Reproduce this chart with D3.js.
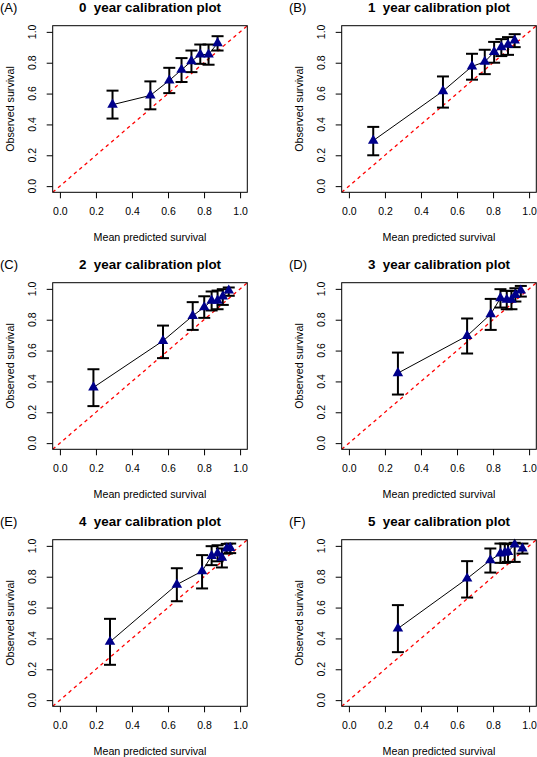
<!DOCTYPE html>
<html>
<head>
<meta charset="utf-8">
<script src="https://cdn.jsdelivr.net/npm/d3@7"></script>
<style>
  html, body { margin: 0; padding: 0; background: #fff; }
  svg { display: block; }
  text { font-family: "Liberation Sans", Arial, Helvetica, sans-serif; fill: #000; }
</style>
</head>
<body>
<svg id="chart" width="537" height="757"></svg>
<script>
// ---- data ----
const panelTags = ["(A)", "(B)", "(C)", "(D)", "(E)", "(F)"];
const panelYears = [0, 1, 2, 3, 4, 5];
const tickValues = [0, 0.2, 0.4, 0.6, 0.8, 1.0];
const xLabel = "Mean predicted survival";
const yLabel = "Observed survival";

const pred0 = [0.292, 0.502, 0.607, 0.675, 0.730, 0.779, 0.825, 0.875];
const obs0  = [0.528, 0.588, 0.685, 0.754, 0.810, 0.853, 0.853, 0.927];
const low0  = [0.438, 0.498, 0.603, 0.675, 0.739, 0.793, 0.787, 0.879];
const up0   = [0.619, 0.679, 0.767, 0.830, 0.879, 0.918, 0.918, 0.972];

const pred1 = [0.135, 0.522, 0.683, 0.754, 0.806, 0.846, 0.883, 0.920];
const obs1  = [0.295, 0.616, 0.776, 0.806, 0.869, 0.901, 0.916, 0.944];
const low1  = [0.200, 0.509, 0.690, 0.726, 0.800, 0.843, 0.851, 0.901];
const up1   = [0.384, 0.711, 0.858, 0.884, 0.935, 0.953, 0.966, 0.985];

const pred2 = [0.186, 0.572, 0.737, 0.801, 0.842, 0.875, 0.904, 0.937];
const obs2  = [0.361, 0.663, 0.825, 0.881, 0.924, 0.924, 0.950, 0.989];
const low2  = [0.240, 0.551, 0.734, 0.812, 0.860, 0.868, 0.896, 0.955];
const up2   = [0.479, 0.762, 0.914, 0.952, 0.983, 0.989, 0.998, 1.009];

const pred3 = [0.272, 0.656, 0.787, 0.841, 0.876, 0.902, 0.924, 0.954];
const obs3  = [0.454, 0.695, 0.836, 0.940, 0.929, 0.929, 0.961, 0.989];
const low3  = [0.315, 0.581, 0.734, 0.879, 0.868, 0.868, 0.918, 0.950];
const up3   = [0.587, 0.808, 0.935, 0.998, 0.987, 0.987, 1.004, 1.019];

const pred4 = [0.278, 0.649, 0.789, 0.842, 0.875, 0.899, 0.926, 0.945];
const obs4  = [0.378, 0.749, 0.836, 0.935, 0.950, 0.924, 0.983, 0.987];
const low4  = [0.229, 0.641, 0.724, 0.875, 0.900, 0.860, 0.950, 0.953];
const up4   = [0.527, 0.855, 0.940, 0.998, 1.004, 0.983, 1.013, 1.015];

const pred5 = [0.272, 0.656, 0.785, 0.841, 0.865, 0.883, 0.920, 0.963];
const obs5  = [0.464, 0.788, 0.907, 0.950, 0.955, 0.961, 1.009, 0.983];
const low5  = [0.311, 0.665, 0.827, 0.890, 0.890, 0.896, 0.896, 0.950];
const up5   = [0.616, 0.901, 0.983, 1.015, 1.015, 1.011, 1.020, 1.015];

const preds = [pred0, pred1, pred2, pred3, pred4, pred5];
const obss  = [obs0, obs1, obs2, obs3, obs4, obs5];
const lows  = [low0, low1, low2, low3, low4, low5];
const ups   = [up0, up1, up2, up3, up4, up5];

// ---- layout ----
const colX = [0, 289];
const rowY = [0, 257, 514];
const box = { left: 52.7, top: 25.7, w: 194.6, h: 166.6 };

const svg = d3.select("#chart");

panelYears.forEach((yr, i) => {
  const ox = colX[i % 2], oy = rowY[Math.floor(i / 2)];
  const data = preds[i].map((p, j) => ({ p, o: obss[i][j], lo: lows[i][j], hi: ups[i][j] }));

  const x = d3.scaleLinear().domain([-0.04, 1.04]).range([ox + box.left, ox + box.left + box.w]);
  const y = d3.scaleLinear().domain([-0.04, 1.04]).range([oy + box.top + box.h, oy + box.top]);

  const g = svg.append("g");
  const clipId = "clip" + i;
  g.append("clipPath").attr("id", clipId).append("rect")
    .attr("x", x(-0.04)).attr("y", y(1.04)).attr("width", box.w).attr("height", box.h);

  // diagonal reference line
  g.append("line")
    .attr("clip-path", `url(#${clipId})`)
    .attr("x1", x(-0.04)).attr("y1", y(-0.04)).attr("x2", x(1.04)).attr("y2", y(1.04))
    .attr("stroke", "#ff0000").attr("stroke-width", 1.3).attr("stroke-dasharray", "3.5,3.5");

  // connecting line
  g.append("path")
    .datum(data)
    .attr("fill", "none").attr("stroke", "#000").attr("stroke-width", 1)
    .attr("d", d3.line().x(d => x(d.p)).y(d => y(d.o)));

  // error bars
  const eb = g.append("g").attr("stroke", "#000").attr("stroke-width", 2).attr("fill", "none");
  data.forEach(d => {
    eb.append("line").attr("x1", x(d.p)).attr("x2", x(d.p)).attr("y1", y(d.lo)).attr("y2", y(d.hi));
    eb.append("line").attr("x1", x(d.p) - 6).attr("x2", x(d.p) + 6).attr("y1", y(d.lo)).attr("y2", y(d.lo));
    eb.append("line").attr("x1", x(d.p) - 6).attr("x2", x(d.p) + 6).attr("y1", y(d.hi)).attr("y2", y(d.hi));
  });

  // triangles
  g.selectAll("path.pt").data(data).join("path")
    .attr("class", "pt")
    .attr("d", d3.symbol(d3.symbolTriangle, 48))
    .attr("transform", d => `translate(${x(d.p)},${y(d.o)})`)
    .attr("fill", "#00008B");

  // box
  g.append("rect")
    .attr("x", x(-0.04)).attr("y", y(1.04)).attr("width", box.w).attr("height", box.h)
    .attr("fill", "none").attr("stroke", "#000").attr("stroke-width", 1);

  // x axis
  const xa = g.append("g")
    .attr("transform", `translate(0,${y(-0.04)})`)
    .call(d3.axisBottom(x).tickValues(tickValues).tickSize(6).tickPadding(9.5).tickFormat(d3.format(".1f")));
  xa.select(".domain").remove();
  xa.selectAll("text").style("font-size", "10.5px").style("font-family", "'Liberation Sans', Arial, sans-serif").attr("fill", "#000");

  // y axis
  const ya = g.append("g")
    .attr("transform", `translate(${x(-0.04)},0)`)
    .call(d3.axisLeft(y).tickValues(tickValues).tickSize(6).tickFormat(""));
  ya.select(".domain").remove();
  tickValues.forEach(v => {
    g.append("text")
      .attr("transform", `translate(${ox + 36},${y(v)}) rotate(-90)`)
      .attr("text-anchor", "middle")
      .style("font-size", "10.5px")
      .text(d3.format(".1f")(v));
  });

  // axis titles
  g.append("text")
    .attr("x", x(0.5)).attr("y", oy + 240.5)
    .attr("text-anchor", "middle").style("font-size", "10.7px")
    .text(xLabel);
  g.append("text")
    .attr("transform", `translate(${ox + 13.5},${y(0.5)}) rotate(-90)`)
    .attr("text-anchor", "middle").style("font-size", "10.7px")
    .text(yLabel);

  // title
  g.append("text")
    .attr("x", x(0.5)).attr("y", oy + 12)
    .attr("text-anchor", "middle")
    .style("font-size", "13.4px").style("font-weight", "bold").style("white-space", "pre")
    .text(`${yr}  year calibration plot`);

  // panel tag
  g.append("text")
    .attr("x", ox).attr("y", oy + 12)
    .style("font-size", "13px")
    .text(panelTags[i]);
});
</script>
</body>
</html>
